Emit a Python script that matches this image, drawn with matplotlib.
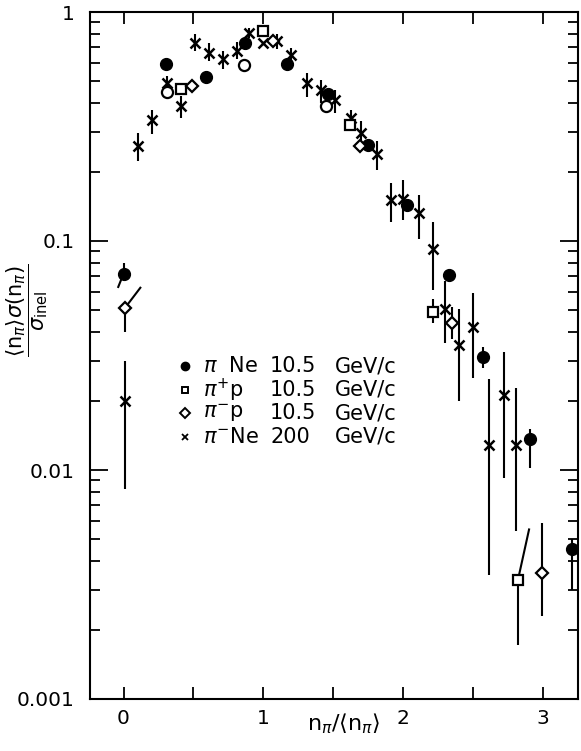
import numpy as np
import matplotlib
matplotlib.use('Agg')
import matplotlib.pyplot as plt
from matplotlib.ticker import FixedLocator, MultipleLocator, NullFormatter, LogLocator

# pi Ne 10.5 GeV/c (filled circles)
ne_x = [0.00, 0.30, 0.59, 0.87, 1.17, 1.46, 1.75, 2.03, 2.33, 2.57, 2.91, 3.21]
ne_y = [0.072, 0.59, 0.52, 0.73, 0.59, 0.44, 0.263, 0.143, 0.071, 0.031, 0.0137, 0.0045]
ne_lo = [0.072, 0.59, 0.52, 0.73, 0.59, 0.44, 0.263, 0.143, 0.071, 0.028, 0.0102, 0.0030]
ne_hi = [0.080, 0.59, 0.52, 0.73, 0.59, 0.44, 0.263, 0.143, 0.071, 0.0343, 0.0151, 0.0050]

# pi+ p 10.5 GeV/c (open squares)
pp_x = [0.41, 1.00, 1.62, 2.21, 2.82]
pp_y = [0.46, 0.83, 0.322, 0.049, 0.0033]
pp_lo = [0.46, 0.83, 0.322, 0.0437, 0.00172]
pp_hi = [0.46, 0.83, 0.322, 0.0558, 0.0033]

# pi- p 10.5 GeV/c (open diamonds)
pm_x = [0.01, 0.49, 1.07, 1.69, 2.35, 2.99]
pm_y = [0.051, 0.477, 0.746, 0.261, 0.0439, 0.00354]
pm_lo = [0.040, 0.477, 0.746, 0.261, 0.0373, 0.0023]
pm_hi = [0.051, 0.477, 0.746, 0.261, 0.0514, 0.00588]

# open circles (no legend entry)
oc_x = [0.31, 0.86, 1.45]
oc_y = [0.446, 0.586, 0.389]

# pi- Ne 200 GeV/c (crosses)
xn_x = [0.01, 0.105, 0.205, 0.31, 0.41, 0.51, 0.61, 0.71, 0.81, 0.90, 1.00, 1.10, 1.20, 1.31,
        1.41, 1.51, 1.63, 1.70, 1.81, 1.91, 2.00, 2.11, 2.21, 2.30, 2.40, 2.50, 2.61, 2.72, 2.81]
xn_y = [0.020, 0.261, 0.338, 0.490, 0.390, 0.734, 0.664, 0.625, 0.679, 0.812, 0.734, 0.746, 0.652, 0.490,
        0.455, 0.414, 0.344, 0.296, 0.240, 0.151, 0.152, 0.132, 0.092, 0.0505, 0.0352, 0.0420, 0.0129, 0.0213, 0.0129]
xn_lo = [0.00826, 0.224, 0.294, 0.458, 0.345, 0.675, 0.608, 0.561, 0.625, 0.772, 0.734, 0.686, 0.604, 0.427,
         0.401, 0.362, 0.301, 0.254, 0.204, 0.121, 0.123, 0.1017, 0.0608, 0.0358, 0.020, 0.0253, 0.00348, 0.00922, 0.00542]
xn_hi = [0.030, 0.297, 0.374, 0.528, 0.431, 0.798, 0.729, 0.675, 0.739, 0.855, 0.734, 0.798, 0.698, 0.544,
         0.507, 0.458, 0.374, 0.333, 0.272, 0.179, 0.185, 0.159, 0.121, 0.0672, 0.0507, 0.059, 0.0249, 0.0326, 0.0228]

# slanted error lines (start, end)
sl_x0 = [-0.038, 0.01, 2.82]
sl_y0 = [0.063, 0.051, 0.0033]
sl_x1 = [0.0, 0.12, 2.90]
sl_y1 = [0.072, 0.0625, 0.0055]

# legend text, three columns per row
leg_particle = [r'$\pi$  Ne', r'$\pi^{+}$p', r'$\pi^{-}$p', r'$\pi^{-}$Ne']
leg_energy = ['10.5', '10.5', '10.5', '200']
leg_unit = ['GeV/c', 'GeV/c', 'GeV/c', 'GeV/c']


def yerr(y, lo, hi):
    y = np.array(y); lo = np.array(lo); hi = np.array(hi)
    return [y - lo, hi - y]


fig = plt.figure(figsize=(5.81, 7.51), dpi=100)
ax = fig.add_axes([90 / 581, 1 - 699 / 751, 488 / 581, 687 / 751])

ek = dict(fmt='none', ecolor='k', elinewidth=1.5, capsize=0, zorder=2)
ax.errorbar(ne_x, ne_y, yerr=yerr(ne_y, ne_lo, ne_hi), **ek)
ax.errorbar(pp_x, pp_y, yerr=yerr(pp_y, pp_lo, pp_hi), **ek)
ax.errorbar(pm_x, pm_y, yerr=yerr(pm_y, pm_lo, pm_hi), **ek)
ax.errorbar(xn_x, xn_y, yerr=yerr(xn_y, xn_lo, xn_hi), **ek)
for i in range(len(sl_x0)):
    ax.plot([sl_x0[i], sl_x1[i]], [sl_y0[i], sl_y1[i]], color='k', lw=1.5, zorder=2)

ax.plot(xn_x, xn_y, 'x', color='k', ms=7, mew=1.8, zorder=3)
ax.plot(ne_x, ne_y, 'o', color='k', ms=8.5, zorder=4)
ax.plot(oc_x, oc_y, 'o', mfc='white', mec='k', ms=8, mew=1.6, zorder=4)
ax.plot(pp_x, pp_y, 's', mfc='white', mec='k', ms=7, mew=1.6, zorder=4)
ax.plot(pm_x, pm_y, 'D', mfc='white', mec='k', ms=6.5, mew=1.6, zorder=4)

ax.set_yscale('log')
ax.set_ylim(1e-3, 1)
ax.set_xlim(-0.24, 3.25)

ax.yaxis.set_major_locator(FixedLocator([0.001, 0.01, 0.1, 1]))
ax.set_yticklabels(['0.001', '0.01', '0.1', '1'])
ax.yaxis.set_minor_locator(LogLocator(base=10, subs=np.arange(2, 10)))
ax.yaxis.set_minor_formatter(NullFormatter())
ax.xaxis.set_major_locator(FixedLocator([0, 1, 2, 3]))
ax.xaxis.set_minor_locator(MultipleLocator(0.5))

ax.tick_params(which='both', direction='in', top=True, right=True, width=1.3, labelsize=14.5)
ax.tick_params(axis='y', which='major', length=13, pad=11)
ax.tick_params(axis='y', which='minor', length=7)
ax.tick_params(axis='x', which='both', length=8.5, pad=7)
for s in ax.spines.values():
    s.set_linewidth(1.5)

ax.set_ylabel(r'$\dfrac{\langle \mathrm{n}_\pi\rangle\sigma(\mathrm{n}_\pi)}{\sigma_{\rm inel}}$',
              fontsize=15, va='center')
ax.yaxis.set_label_coords(-0.128, 0.566)
ax.set_xlabel(r'$\mathrm{n}_\pi/\langle \mathrm{n}_\pi\rangle$', fontsize=16)
ax.xaxis.set_label_coords(0.52, -0.018)

# hand-made legend in axes fractions
row_y = [0.4847, 0.4498, 0.4163, 0.3814]
mk = [dict(marker='o', color='k', ms=6),
      dict(marker='s', mfc='white', mec='k', ms=5, mew=1.4),
      dict(marker='D', mfc='white', mec='k', ms=5, mew=1.4),
      dict(marker='x', color='k', ms=5, mew=1.3)]
for i in range(4):
    ax.plot([0.1947], [row_y[i]], ls='none', transform=ax.transAxes, **mk[i])
    ax.text(0.2316, row_y[i], leg_particle[i], transform=ax.transAxes, fontsize=15, va='center')
    ax.text(0.3689, row_y[i], leg_energy[i], transform=ax.transAxes, fontsize=15, va='center')
    ax.text(0.502, row_y[i], leg_unit[i], transform=ax.transAxes, fontsize=15, va='center')

fig.savefig('out.png', dpi=100)
